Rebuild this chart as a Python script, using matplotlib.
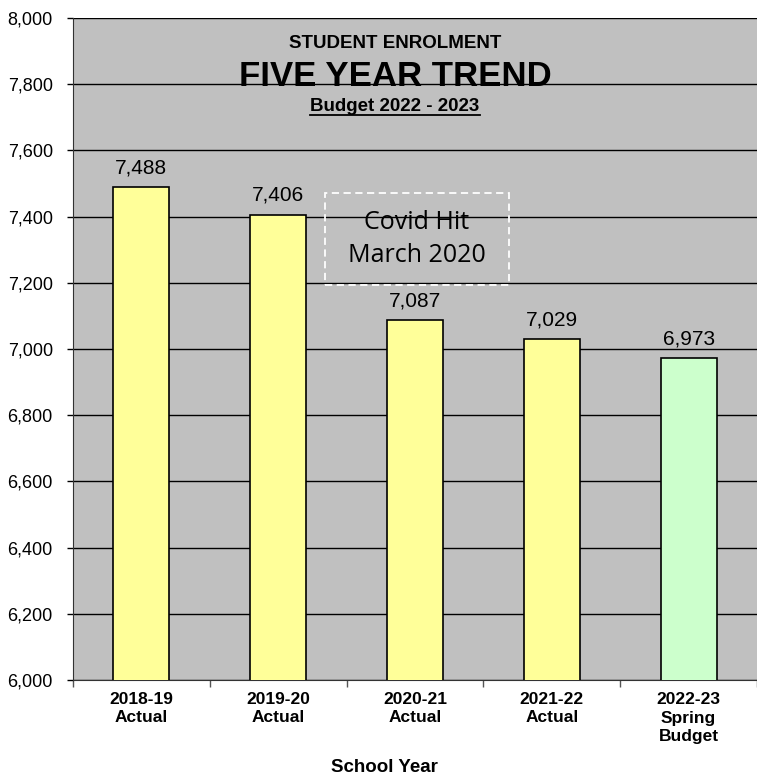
import matplotlib
matplotlib.use("Agg")
import matplotlib.pyplot as plt
from matplotlib.patches import Rectangle
from matplotlib.lines import Line2D
from matplotlib.ticker import FuncFormatter, MultipleLocator

categories = ["2018-19\nActual", "2019-20\nActual", "2020-21\nActual", "2021-22\nActual", "2022-23\nSpring\nBudget"]
values = [7488, 7406, 7087, 7029, 6973]
colors = ["#ffff99", "#ffff99", "#ffff99", "#ffff99", "#ccffcc"]

plt.rcParams['font.family'] = ['Liberation Sans', 'DejaVu Sans']

fig = plt.figure(figsize=(7.57, 7.76), dpi=100)
W, H = 757, 776
ax = fig.add_axes([73/W, 1-680/H, 1-73/W, 662/H])
ax.set_facecolor("#c0c0c0")

x = list(range(len(categories)))
bars = ax.bar(x, values, width=0.41, color=colors, edgecolor="black", linewidth=1.2, zorder=3)
ax.set_ylim(6000, 8000)
ax.set_xlim(-0.5, len(categories) - 0.5)
ax.yaxis.set_major_locator(MultipleLocator(200))
ax.yaxis.set_major_formatter(FuncFormatter(lambda v, p: f"{int(v):,}"))
ax.grid(axis="y", color="black", linewidth=1, zorder=1)
ax.set_axisbelow(True)

for xi, v in zip(x, values):
    ax.annotate(f"{v:,}", (xi, v), xytext=(0, 10), textcoords="offset points",
                ha="center", va="baseline", fontsize=15)

ax.set_xticks(x)
ax.set_xticklabels(categories, fontweight="bold", fontsize=12.5, linespacing=1.25)
ax.tick_params(axis="x", which="major", length=0, pad=9)
ax.set_xticks([i - 0.5 for i in range(len(categories) + 1)], minor=True)
ax.tick_params(axis="x", which="minor", length=5, width=1, color="#555555")
ax.tick_params(axis="y", length=4, width=1, labelsize=13, pad=10.5)

for s in ["top", "right"]:
    ax.spines[s].set_visible(False)
ax.spines["left"].set_color("#333333")
ax.spines["bottom"].set_color("#333333")

fig.text(384/W, 1-767/H, "School Year", ha="center", va="center", fontweight="bold", fontsize=13.5)

fig.text(395/W, 1-48/H, "STUDENT ENROLMENT", ha="center", va="baseline", fontweight="bold", fontsize=13.5)
fig.text(395/W, 1-86/H, "FIVE YEAR TREND", ha="center", va="baseline", fontweight="bold", fontsize=25)
sub = fig.text(395/W, 1-111/H, "Budget 2022 - 2023", ha="center", va="baseline", fontweight="bold", fontsize=13.5)
fig.canvas.draw()
bb = sub.get_window_extent(fig.canvas.get_renderer())
uy = 1 - 115/H
fig.add_artist(Line2D([bb.x0 / W, bb.x1 / W], [uy, uy], color="black", linewidth=1.3))

box_x0, box_x1 = (325-73)/684, (509-73)/684
box_y0, box_y1 = (680-285)/662, (680-193)/662
ax.add_patch(Rectangle((box_x0, box_y0), box_x1 - box_x0, box_y1 - box_y0, transform=ax.transAxes,
                       fill=False, edgecolor="white", linestyle=(0, (4, 2.5)), linewidth=1.3, zorder=5))
ax.text((box_x0 + box_x1) / 2, (box_y0 + box_y1) / 2, "Covid Hit\nMarch 2020", transform=ax.transAxes,
        ha="center", va="center", fontsize=18, family=["Open Sans", "DejaVu Sans"], linespacing=1.45, zorder=6)

fig.savefig("out.png", dpi=100)
